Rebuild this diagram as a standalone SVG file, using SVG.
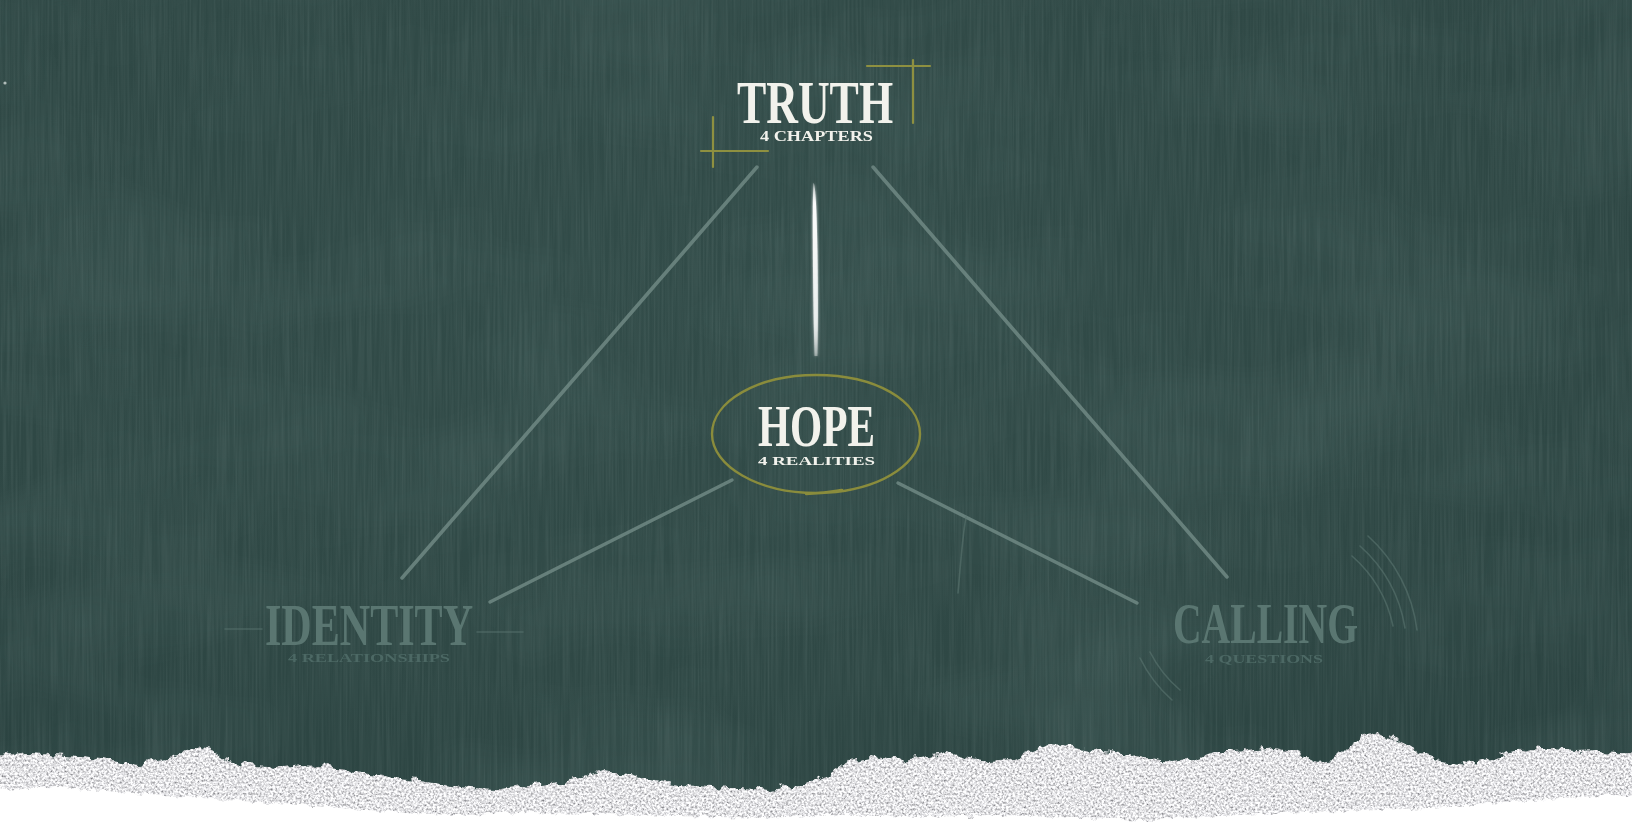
<svg xmlns="http://www.w3.org/2000/svg" width="1632" height="824" viewBox="0 0 1632 824">
  <defs>
    <style>
      .title { font-family: "Liberation Serif", "DejaVu Serif", serif; font-weight: bold; }
      .sub { font-family: "Liberation Serif", "DejaVu Serif", serif; font-weight: bold; }
      .bright { fill: #f2f2ec; }
      .muted { fill: #5a7671; }
      .mutedsub { fill: #4c6864; }
      .edge { stroke: #738c87; stroke-width: 3.5; stroke-linecap: round; fill: none; opacity: 0.8; }
      .spoke { stroke: #738c87; stroke-width: 3.5; stroke-linecap: round; fill: none; opacity: 0.8; }
      .gold { stroke: #8e9040; stroke-width: 2.2; fill: none; stroke-linecap: round; }
      .faint { stroke: #5a7470; stroke-width: 1.6; fill: none; stroke-linecap: round; opacity: 0.6; }
    </style>
    <radialGradient id="bgGrad" cx="0.45" cy="0.35" r="0.8">
      <stop offset="0" stop-color="#324c49"/>
      <stop offset="0.6" stop-color="#2f4845"/>
      <stop offset="1" stop-color="#2a4240"/>
    </radialGradient>
    <linearGradient id="vGrad" x1="0" y1="0" x2="0" y2="1">
      <stop offset="0" stop-color="#ffffff" stop-opacity="0.5"/>
      <stop offset="0.12" stop-color="#ffffff" stop-opacity="0.95"/>
      <stop offset="0.8" stop-color="#eef2f1" stop-opacity="0.9"/>
      <stop offset="1" stop-color="#ffffff" stop-opacity="0.35"/>
    </linearGradient>
    <linearGradient id="hGrad" x1="0" y1="0" x2="1" y2="0">
      <stop offset="0" stop-color="#6a8580" stop-opacity="0.2"/>
      <stop offset="0.1" stop-color="#6a8580" stop-opacity="0.85"/>
      <stop offset="0.9" stop-color="#6a8580" stop-opacity="0.85"/>
      <stop offset="1" stop-color="#6a8580" stop-opacity="0.6"/>
    </linearGradient>
    <filter id="streaks" x="0" y="0" width="100%" height="100%">
      <feTurbulence type="fractalNoise" baseFrequency="0.5 0.01" numOctaves="2" seed="4" result="n"/>
      <feColorMatrix in="n" type="matrix" values="0 0 0 0 0.6  0 0 0 0 0.72  0 0 0 0 0.7  0.16 0 0 0 -0.055"/>
    </filter>
    <filter id="mottle" x="0" y="0" width="100%" height="100%">
      <feTurbulence type="fractalNoise" baseFrequency="0.004 0.008" numOctaves="3" seed="9" result="n"/>
      <feColorMatrix in="n" type="matrix" values="0 0 0 0 0.1  0 0 0 0 0.18  0 0 0 0 0.17  0 0.45 0 0 -0.18"/>
    </filter>
    <filter id="paper" x="-2%" y="-20%" width="104%" height="140%">
      <feTurbulence type="fractalNoise" baseFrequency="0.09" numOctaves="3" seed="2" result="t"/>
      <feDisplacementMap in="SourceGraphic" in2="t" scale="12" xChannelSelector="R" yChannelSelector="G" result="d"/>
      <feTurbulence type="fractalNoise" baseFrequency="0.45" numOctaves="3" seed="7" result="g"/>
      <feColorMatrix in="g" type="matrix" values="1.5 0 0 0 0.02  1.5 0 0 0 0.02  1.5 0 0 0 0.04  0 0 0 0 1" result="gc"/>
      <feComposite in="gc" in2="d" operator="in"/>
    </filter>
    <filter id="rough" x="-2%" y="-20%" width="104%" height="140%">
      <feTurbulence type="fractalNoise" baseFrequency="0.12" numOctaves="2" seed="5" result="t"/>
      <feDisplacementMap in="SourceGraphic" in2="t" scale="8" xChannelSelector="R" yChannelSelector="G"/>
    </filter>
    <filter id="soft" x="-10%" y="-10%" width="120%" height="120%">
      <feGaussianBlur stdDeviation="0.6"/>
    </filter>
    <filter id="glow" x="-100%" y="-10%" width="300%" height="120%">
      <feGaussianBlur in="SourceGraphic" stdDeviation="1.5" result="b"/>
      <feMerge><feMergeNode in="b"/><feMergeNode in="SourceGraphic"/></feMerge>
    </filter>
  </defs>

  <!-- chalkboard background -->
  <rect x="0" y="0" width="1632" height="824" fill="url(#bgGrad)"/>
  <rect x="0" y="0" width="1632" height="824" filter="url(#mottle)"/>
  <rect x="0" y="0" width="1632" height="824" filter="url(#streaks)"/>
  <circle cx="5" cy="83" r="1.6" fill="#cfd8d6" opacity="0.8"/>

  <!-- connectors -->
  <g id="connectors" filter="url(#soft)">
    <line class="edge" x1="757" y1="167" x2="402" y2="578"/>
    <line class="edge" x1="873" y1="167" x2="1227" y2="577"/>
    <path d="M813.5 183 C817.5 184 818.5 300 817.5 356 L814.5 356 C813 300 812 200 813.5 183 Z" fill="url(#vGrad)" filter="url(#glow)"/>
    <line class="spoke" x1="732" y1="480" x2="490" y2="602"/>
    <line class="spoke" x1="898" y1="483" x2="1137" y2="603"/>
    <line x1="540" y1="642" x2="1137" y2="642" stroke="url(#hGrad)" stroke-width="4" stroke-linecap="round"/>
    <path class="faint" d="M966 517 C962 540 961 560 958 593"/>
  </g>

  <!-- TRUTH node -->
  <g id="node-truth">
    <line class="gold" x1="867" y1="66" x2="930" y2="66"/>
    <line class="gold" x1="913" y1="60" x2="913" y2="123"/>
    <line class="gold" x1="713" y1="117" x2="713" y2="167"/>
    <line class="gold" x1="701" y1="151" x2="768" y2="151"/>
    <text class="title bright" x="737" y="123" font-size="62" textLength="156" lengthAdjust="spacingAndGlyphs">TRUTH</text>
    <text class="sub bright" x="760" y="141" font-size="14" textLength="113" lengthAdjust="spacingAndGlyphs">4 CHAPTERS</text>
  </g>

  <!-- HOPE node -->
  <g id="node-hope">
    <path d="M842 490 C828 492 822 493 816 493 C758 493 712 466 712 434 C712 401 758 375 816 375 C876 375 920 401 920 434 C920 462 886 486 836 492 L806 494" fill="none" stroke="#8a8c3c" stroke-width="2.4" stroke-linecap="round"/>
    <text class="title bright" x="758" y="446" font-size="59" textLength="117" lengthAdjust="spacingAndGlyphs">HOPE</text>
    <text class="sub bright" x="758" y="465" font-size="12.5" textLength="117" lengthAdjust="spacingAndGlyphs">4 REALITIES</text>
  </g>

  <!-- IDENTITY node -->
  <g id="node-identity">
    <line class="faint" x1="225" y1="629" x2="262" y2="629"/>
    <line class="faint" x1="477" y1="632" x2="523" y2="632"/>
    <text class="title muted" x="265" y="645" font-size="60" textLength="208" lengthAdjust="spacingAndGlyphs">IDENTITY</text>
    <text class="sub mutedsub" x="288" y="662" font-size="11.5" textLength="162" lengthAdjust="spacingAndGlyphs">4 RELATIONSHIPS</text>
  </g>

  <!-- CALLING node -->
  <g id="node-calling">
    <path class="faint" d="M1352 556 A128 128 0 0 1 1393 626"/>
    <path class="faint" d="M1360 546 A140 140 0 0 1 1405 628"/>
    <path class="faint" d="M1368 536 A152 152 0 0 1 1417 630"/>
    <path class="faint" d="M1150 652 A122 122 0 0 0 1180 690"/>
    <path class="faint" d="M1140 658 A134 134 0 0 0 1172 700"/>
    <text class="title muted" x="1173" y="643" font-size="58" textLength="185" lengthAdjust="spacingAndGlyphs">CALLING</text>
    <text class="sub mutedsub" x="1205" y="663" font-size="11.5" textLength="118" lengthAdjust="spacingAndGlyphs">4 QUESTIONS</text>
  </g>

  <!-- torn paper edge -->
  <path filter="url(#paper)" d="M-10 758 L25 752 L50 755 L80 757 L110 760 L140 765 L165 760 L185 752 L200 745 L210 748 L225 760 L250 765 L275 768 L300 765 L320 766 L345 770 L370 774 L395 778 L420 780 L445 784 L470 788 L500 789 L530 785 L560 782 L585 777 L605 770 L625 774 L650 780 L680 785 L710 787 L740 788 L770 790 L800 786 L830 775 L850 760 L870 757 L895 760 L920 758 L945 752 L965 757 L990 762 L1010 760 L1030 752 L1050 744 L1070 746 L1090 750 L1110 752 L1130 755 L1150 760 L1170 763 L1195 760 L1215 752 L1235 752 L1255 750 L1275 748 L1295 752 L1315 762 L1335 760 L1350 745 L1365 735 L1378 732 L1392 738 L1405 745 L1420 752 L1440 760 L1465 764 L1490 760 L1510 752 L1530 748 L1550 750 L1575 752 L1600 751 L1645 753 L1645 840 L-10 840 Z" fill="#ffffff"/>
  <path filter="url(#rough)" d="M-10 790 L60 788 L150 794 L230 800 L300 805 L380 811 L450 815 L530 813 L600 814 L680 816 L760 818 L840 815 L920 817 L1000 815 L1080 818 L1150 820 L1220 816 L1300 812 L1380 810 L1450 807 L1510 802 L1560 798 L1645 794 L1645 840 L-10 840 Z" fill="#ffffff"/>
</svg>
